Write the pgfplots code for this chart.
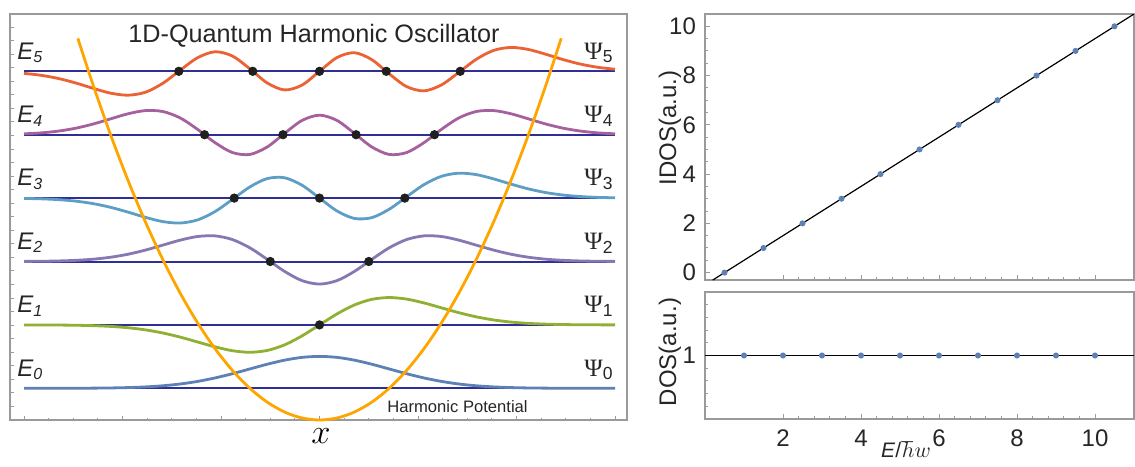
\documentclass[border=0pt]{standalone}
\usepackage{pgfplots}
\pgfplotsset{compat=1.18}
\usepackage{fontspec}
\setmainfont{Liberation Sans}
\newfontfamily\psifont{Liberation Serif}
\definecolor{cA}{HTML}{5E81B5}
\definecolor{cB}{HTML}{8FB032}
\definecolor{cC}{HTML}{8778B3}
\definecolor{cD}{HTML}{5D9EC7}
\definecolor{cE}{HTML}{A5609D}
\definecolor{cF}{HTML}{EB6235}
\definecolor{pot}{HTML}{FFA500}
\definecolor{lev}{HTML}{2E2E96}
\definecolor{frm}{HTML}{9A9A9A}
\begin{document}
\begin{tikzpicture}
\path[use as bounding box] (0pt,0pt) rectangle (567.5pt,-233pt);
% ---------------- left panel ----------------
\begin{axis}[
  at={(5pt,-7pt)}, anchor=north west, scale only axis,
  width=308.5pt, height=203pt,
  xmin=-4.444, xmax=4.415, ymin=0, ymax=6.404,
  xtick={-4.2426,-2.8284,-1.4142,0,1.4142,2.8284,4.2426},
  minor xtick={-3.8891,-3.5355,-3.1820,-2.4749,-2.1213,-1.7678,-1.0607,-0.7071,-0.3536,0.3536,0.7071,1.0607,1.7678,2.1213,2.4749,3.1820,3.5355,3.8891},
  ytick={0.21372,0.42744,...,6.3},
  xticklabels={}, yticklabels={},
  tick align=inside, tick pos=left,
  major tick length=2pt, minor tick length=1.1pt,
  axis line style={frm, line width=0.6pt},
  every tick/.style={frm, line width=0.5pt},
  clip=false,
]
% energy levels
\addplot[lev, line width=1pt] coordinates {(-4.2426,0.5) (4.2426,0.5)};
\addplot[lev, line width=1pt] coordinates {(-4.2426,1.5) (4.2426,1.5)};
\addplot[lev, line width=1pt] coordinates {(-4.2426,2.5) (4.2426,2.5)};
\addplot[lev, line width=1pt] coordinates {(-4.2426,3.5) (4.2426,3.5)};
\addplot[lev, line width=1pt] coordinates {(-4.2426,4.5) (4.2426,4.5)};
\addplot[lev, line width=1pt] coordinates {(-4.2426,5.5) (4.2426,5.5)};
% psi0
\addplot[cA, line width=1.4pt, smooth] coordinates {
(-4.2426,0.5001) (-4,0.5002) (-3.75,0.5004) (-3.5,0.5011) (-3.25,0.5026) (-3,0.5056)
(-2.75,0.5115) (-2.5,0.5221) (-2.25,0.5400) (-2,0.5681) (-1.75,0.6088) (-1.5,0.6634)
(-1.25,0.7304) (-1,0.8053) (-0.75,0.8799) (-0.5,0.9442) (-0.25,0.9878) (0,1.0033)
(0.25,0.9878) (0.5,0.9442) (0.75,0.8799) (1,0.8053) (1.25,0.7304) (1.5,0.6634)
(1.75,0.6088) (2,0.5681) (2.25,0.5400) (2.5,0.5221) (2.75,0.5115) (3,0.5056)
(3.25,0.5026) (3.5,0.5011) (3.75,0.5004) (4,0.5002) (4.2426,0.5001)};
% psi1
\addplot[cB, line width=1.4pt, smooth] coordinates {
(-4.2426,1.4996) (-4,1.4990) (-3.75,1.4976) (-3.5,1.4945) (-3.25,1.4882) (-3,1.4763)
(-2.75,1.4554) (-2.5,1.4218) (-2.25,1.3726) (-2,1.3073) (-1.75,1.2306) (-1.5,1.1534)
(-1.25,1.0927) (-1,1.0683) (-0.75,1.0971) (-0.5,1.1859) (-0.25,1.3275) (0,1.5)
(0.25,1.6725) (0.5,1.8141) (0.75,1.9029) (1,1.9317) (1.25,1.9073) (1.5,1.8466)
(1.75,1.7694) (2,1.6927) (2.25,1.6274) (2.5,1.5782) (2.75,1.5446) (3,1.5237)
(3.25,1.5118) (3.5,1.5055) (3.75,1.5024) (4,1.5010) (4.2426,1.5004)};
% psi2
\addplot[cC, line width=1.4pt, smooth] coordinates {
(-4.2426,2.5016) (-4,2.5037) (-3.75,2.5085) (-3.5,2.5183) (-3.25,2.5364) (-3,2.5672)
(-2.75,2.6146) (-2.5,2.6798) (-2.25,2.7583) (-2,2.8371) (-1.75,2.8944) (-1.5,2.9044)
(-1.25,2.8462) (-1,2.7158) (-0.75,2.5336) (-0.5,2.3430) (-0.25,2.1982) (0,2.1441)
(0.25,2.1982) (0.5,2.3430) (0.75,2.5336) (1,2.7158) (1.25,2.8462) (1.5,2.9044)
(1.75,2.8944) (2,2.8371) (2.25,2.7583) (2.5,2.6798) (2.75,2.6146) (3,2.5672)
(3.25,2.5364) (3.5,2.5183) (3.75,2.5085) (4,2.5037) (4.2426,2.5016)};
% psi3
\addplot[cD, line width=1.4pt, smooth] coordinates {
(-4.2426,3.4949) (-4,3.4887) (-3.75,3.4758) (-3.5,3.4522) (-3.25,3.4129) (-3,3.3547)
(-2.75,3.2792) (-2.5,3.1968) (-2.25,3.1294) (-2,3.1067) (-1.75,3.1563) (-1.5,3.2878)
(-1.25,3.4792) (-1,3.6762) (-0.75,3.8084) (-0.5,3.8205) (-0.25,3.7024) (0,3.5)
(0.25,3.2976) (0.5,3.1795) (0.75,3.1916) (1,3.3238) (1.25,3.5208) (1.5,3.7122)
(1.75,3.8437) (2,3.8933) (2.25,3.8706) (2.5,3.8032) (2.75,3.7208) (3,3.6453)
(3.25,3.5871) (3.5,3.5478) (3.75,3.5242) (4,3.5113) (4.2426,3.5051)};
% psi4
\addplot[cE, line width=1.4pt, smooth] coordinates {
(-4.2426,4.5139) (-4,4.5287) (-3.75,4.5568) (-3.5,4.6025) (-3.25,4.6685) (-3,4.7499)
(-2.75,4.8301) (-2.5,4.8803) (-2.25,4.8659) (-2,4.7642) (-1.75,4.5837) (-1.5,4.3749)
(-1.25,4.2185) (-1,4.1885) (-0.75,4.3073) (-0.5,4.5227) (-0.25,4.7256) (0,4.8082)
(0.25,4.7256) (0.5,4.5227) (0.75,4.3073) (1,4.1885) (1.25,4.2185) (1.5,4.3749)
(1.75,4.5837) (2,4.7642) (2.25,4.8659) (2.5,4.8803) (2.75,4.8301) (3,4.7499)
(3.25,4.6685) (3.5,4.6025) (3.75,4.5568) (4,4.5287) (4.2426,4.5139)};
% psi5
\addplot[cF, line width=1.4pt, smooth] coordinates {
(-4.2426,5.4673) (-4,5.4374) (-3.75,5.3870) (-3.5,5.3159) (-3.25,5.2315) (-3,5.1557)
(-2.75,5.1233) (-2.5,5.1699) (-2.25,5.3108) (-2,5.5176) (-1.75,5.7148) (-1.5,5.8085)
(-1.25,5.7411) (-1,5.5394) (-0.75,5.3155) (-0.5,5.2062) (-0.25,5.2833) (0,5.5)
(0.25,5.7167) (0.5,5.7938) (0.75,5.6845) (1,5.4606) (1.25,5.2589) (1.5,5.1915)
(1.75,5.2852) (2,5.4824) (2.25,5.6892) (2.5,5.8301) (2.75,5.8767) (3,5.8443)
(3.25,5.7685) (3.5,5.6841) (3.75,5.6130) (4,5.5626) (4.2426,5.5327)};
% harmonic potential
\addplot[pot, line width=1.4pt, smooth] coordinates {
(-3.47,6.0205) (-3.25,5.28125) (-3,4.5) (-2.75,3.78125) (-2.5,3.125) (-2.25,2.53125)
(-2,2) (-1.75,1.53125) (-1.5,1.125) (-1.25,0.78125) (-1,0.5) (-0.75,0.28125)
(-0.5,0.125) (-0.25,0.03125) (0,0) (0.25,0.03125) (0.5,0.125) (0.75,0.28125)
(1,0.5) (1.25,0.78125) (1.5,1.125) (1.75,1.53125) (2,2) (2.25,2.53125)
(2.5,3.125) (2.75,3.78125) (3,4.5) (3.25,5.28125) (3.47,6.0205)};
% nodes
\addplot[only marks, mark=*, mark size=2.1pt, color=black!88] coordinates {
(0,1.5)
(-0.70711,2.5) (0.70711,2.5)
(-1.22474,3.5) (0,3.5) (1.22474,3.5)
(-1.65068,4.5) (-0.52465,4.5) (0.52465,4.5) (1.65068,4.5)
(-2.02018,5.5) (-0.95857,5.5) (0,5.5) (0.95857,5.5) (2.02018,5.5)};
\end{axis}
% ---------------- right top: IDOS ----------------
\begin{axis}[
  at={(352.5pt,-7pt)}, anchor=north west, scale only axis,
  width=214.5pt, height=133pt,
  xmin=0, xmax=11, ymin=-0.3, ymax=10.5,
  xtick={2,4,6,8,10}, xticklabels={}, minor x tick num=4,
  ytick={0,2,4,6,8,10}, minor y tick num=3,
  tick align=inside, tick pos=left,
  major tick length=2.5pt, minor tick length=1.3pt,
  axis line style={frm, line width=0.6pt},
  every tick/.style={frm, line width=0.5pt},
  yticklabel style={font=\fontsize{12}{14}\selectfont, text=black!85, xshift=-1pt},
  /pgf/number format/assume math mode=true,
]
\addplot[black, line width=0.6pt] coordinates {(0.2,-0.3) (11,10.5)};
\addplot[only marks, mark=*, mark size=1.3pt, color=cA] coordinates {
(0.5,0) (1.5,1) (2.5,2) (3.5,3) (4.5,4) (5.5,5) (6.5,6) (7.5,7) (8.5,8) (9.5,9) (10.5,10)};
\end{axis}
% ---------------- right bottom: DOS ----------------
\begin{axis}[
  at={(352.5pt,-146pt)}, anchor=north west, scale only axis,
  width=214.5pt, height=63.5pt,
  xmin=0, xmax=11, ymin=0.5, ymax=1.5,
  xtick={2,4,6,8,10}, minor x tick num=4,
  ytick={1}, minor ytick={0.6,0.7,0.8,0.9,1.1,1.2,1.3,1.4},
  tick align=inside, tick pos=left,
  major tick length=2.5pt, minor tick length=1.3pt,
  axis line style={frm, line width=0.6pt},
  every tick/.style={frm, line width=0.5pt},
  ticklabel style={font=\fontsize{12}{14}\selectfont, text=black!85},
  yticklabel style={xshift=-1pt},
  xticklabel style={yshift=-2pt},
  /pgf/number format/assume math mode=true,
]
\addplot[black, line width=0.7pt] coordinates {(0,1) (11,1)};
\addplot[only marks, mark=*, mark size=1.3pt, color=cA] coordinates {
(1,1) (2,1) (3,1) (4,1) (5,1) (6,1) (7,1) (8,1) (9,1) (10,1)};
\end{axis}
% ---------------- texts ----------------
\node[anchor=base, inner sep=0, font=\fontsize{12.6}{14}\selectfont, text=black!85] at (157pt,-21pt) {1D-Quantum Harmonic Oscillator};
\node[anchor=base west, inner sep=0, font=\fontsize{8.3}{10}\selectfont, text=black!85] at (193.5pt,-206pt) {Harmonic Potential};
\node[anchor=base, inner sep=0, font=\fontsize{18}{20}\selectfont] at (160.5pt,-221.5pt) {$x$};
\foreach \n/\yy in {5/-29.5, 4/-61.2, 3/-92.9, 2/-124.6, 1/-156.3, 0/-188} {
  \node[anchor=base west, inner sep=0, font=\fontsize{12}{14}\selectfont\itshape, text=black!85] at (8.5pt,\yy pt) {E\textsubscript{\n}};
  \node[anchor=base west, inner sep=0, font=\fontsize{12.5}{14}\selectfont, text=black!85] at (292pt,\yy pt) {{\psifont Ψ}\textsubscript{\n}};
}
\node[rotate=90, inner sep=0, font=\fontsize{12}{14}\selectfont, text=black!85] at (335pt,-64pt) {IDOS(a.u.)};
\node[rotate=90, inner sep=0, font=\fontsize{12}{14}\selectfont, text=black!85] at (335pt,-176pt) {DOS(a.u.)};
\node[anchor=base, inner sep=0, font=\fontsize{10.5}{12}\selectfont, text=black!85] at (453pt,-228.5pt) {\textit{E}/$\hbar w$};
\end{tikzpicture}
\end{document}
